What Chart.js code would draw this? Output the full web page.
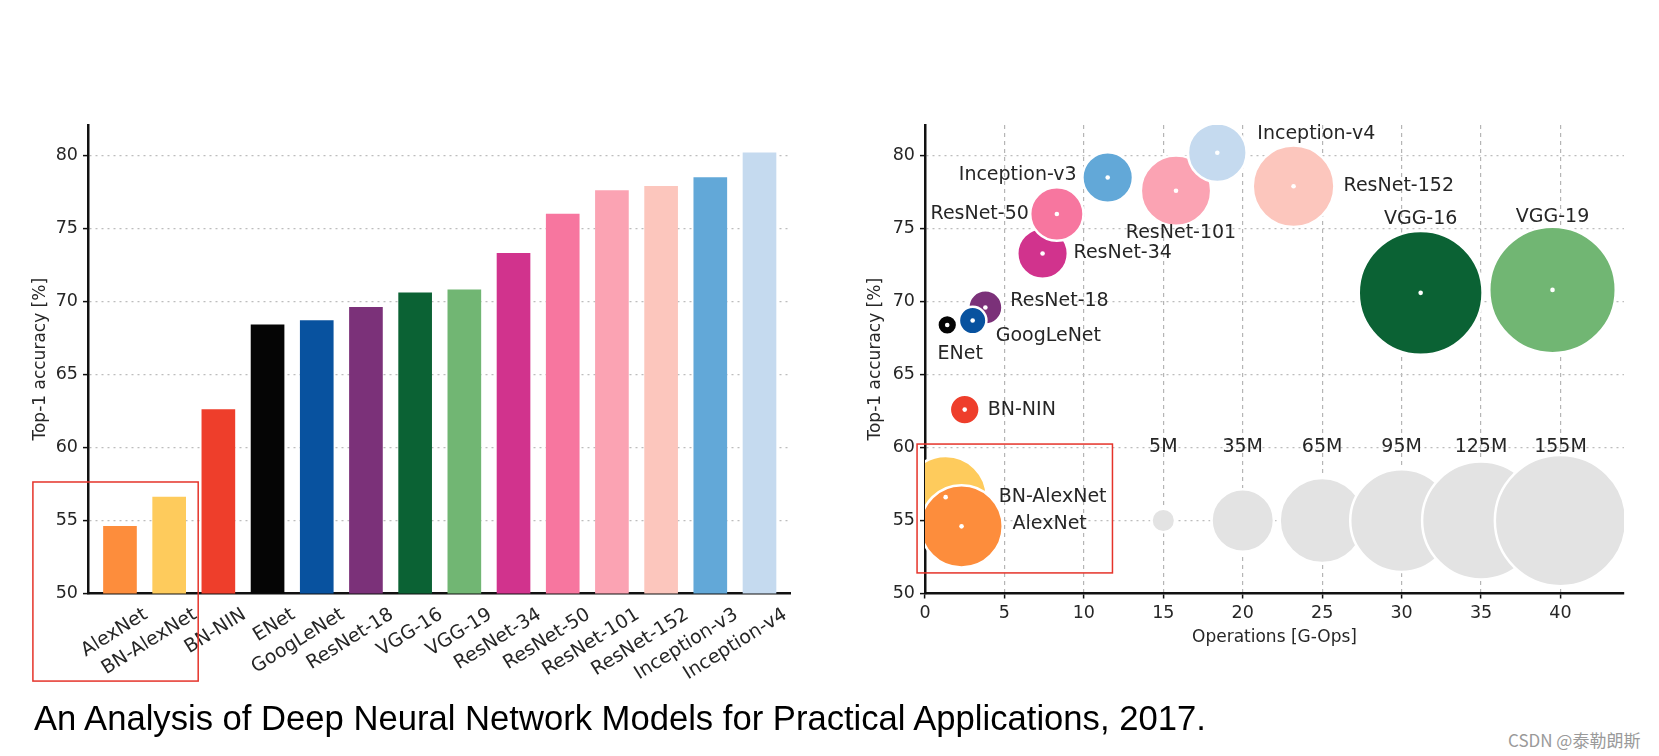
<!DOCTYPE html>
<html>
<head>
<meta charset="utf-8">
<script src="https://cdn.jsdelivr.net/npm/chart.js@4.4.0/dist/chart.umd.min.js"></script>
<style>
  html, body { margin: 0; padding: 0; background: #fff; }
  body { width: 1659px; height: 756px; position: relative; overflow: hidden; }
  #barBox { position: absolute; left: 0; top: 0; width: 800px; height: 700px; }
  #bubbleBox { position: absolute; left: 850px; top: 0; width: 809px; height: 700px; }
  #caption {
    position: absolute; left: 34px; top: 698px;
    font-family: "Liberation Sans", Arial, sans-serif; font-size: 35px; color: #000;
    white-space: nowrap; transform-origin: left top;
  }
  #mark {
    position: absolute; left: 1508px; top: 727px;
    font-family: "Noto Sans CJK SC", sans-serif; font-size: 17px; color: #9a9a9a;
  }
</style>
</head>
<body>
<div id="barBox"><canvas id="bar"></canvas></div>
<div id="bubbleBox"><canvas id="bubble"></canvas></div>
<div id="caption">An Analysis of Deep Neural Network Models for Practical Applications, 2017.</div>
<div id="mark">CSDN @泰勒朗斯</div>
<script>
// models, in the order of the bar chart
const models = ["AlexNet", "BN-AlexNet", "BN-NIN", "ENet", "GoogLeNet", "ResNet-18", "VGG-16",
  "VGG-19", "ResNet-34", "ResNet-50", "ResNet-101", "ResNet-152", "Inception-v3", "Inception-v4"];
// top-1 accuracy [%]
const accuracy = [54.6, 56.6, 62.6, 68.4, 68.7, 69.6, 70.6, 70.8, 73.3, 76.0, 77.6, 77.9, 78.5, 80.2];
// operations [G-Ops]
const operations = [2.3, 1.3, 2.5, 1.4, 3.0, 3.8, 31.2, 39.5, 7.4, 8.3, 15.8, 23.2, 11.5, 18.4];
// parameters [M], shown as bubble size
const params = [61, 61, 8, 3.5, 6.8, 10.5, 138, 144, 23, 25.6, 44.5, 60, 23, 31];
const colors = ["#fd8d3c", "#fecb5c", "#ee3e2b", "#050505", "#08529f", "#7b3179", "#0b6234",
  "#71b673", "#d1338d", "#f7769f", "#fba3b3", "#fcc6bd", "#62a8d8", "#c5daef"];

// grey size legend
const legendParams = [5, 35, 65, 95, 125, 155];
const legendOps = [15, 20, 25, 30, 35, 40];
const legendAccuracy = 55;
const legendLabelAccuracy = 60;

// bubbles drawn later sit on top
const drawOrder = ["BN-AlexNet", "AlexNet", "BN-NIN", "ResNet-18", "ENet", "GoogLeNet", "ResNet-34",
  "ResNet-50", "Inception-v3", "ResNet-101", "Inception-v4", "ResNet-152", "VGG-16", "VGG-19"];

const font = "DejaVu Sans";
const ink = "#262626";
const tickSize = 17.5;
const sizeScale = 5.27; // px per sqrt(M)

// label placement next to each bubble: dx, dy, align
const labelPlace = {
  "AlexNet": [51, -2, "left"],
  "BN-AlexNet": [53, 0, "left"],
  "BN-NIN": [23, 0, "left"],
  "ENet": [13, 29, "center"],
  "GoogLeNet": [23, 15, "left"],
  "ResNet-18": [25, -6, "left"],
  "ResNet-34": [31, 0, "left"],
  "ResNet-50": [-28, 0, "right"],
  "Inception-v3": [-31, -2, "right"],
  "ResNet-101": [5, 42, "center"],
  "Inception-v4": [40, -19, "left"],
  "ResNet-152": [50, 0, "left"],
  "VGG-16": [0, -74, "center"],
  "VGG-19": [0, -73, "center"]
};

Chart.defaults.font.family = font;
Chart.defaults.color = ink;
Chart.defaults.animation = false;
Chart.defaults.events = [];
Chart.defaults.plugins.legend.display = false;
Chart.defaults.plugins.tooltip.enabled = false;

const fiveOnly = (max) => (scale) => {
  scale.ticks = scale.ticks.filter(t => t.value % 5 === 0 && t.value <= max);
};

function redBox(chart, x0, x1, y0, y1) {
  const { ctx, scales: { x, y } } = chart;
  ctx.save();
  ctx.strokeStyle = "#e5332a";
  ctx.lineWidth = 1.5;
  const l = x.getPixelForValue(x0), r = x.getPixelForValue(x1);
  const t = y.getPixelForValue(y1), b = y.getPixelForValue(y0);
  ctx.strokeRect(l, t, r - l, b - t);
  ctx.restore();
}

const yAxis = (width, titlePad) => ({
  min: 50,
  max: 82.1,
  afterBuildTicks: fiveOnly(80),
  afterFit: (s) => { s.width = width; },
  ticks: { stepSize: 5, padding: 5, font: { size: tickSize }, color: ink },
  grid: {
    color: (c) => c.tick && c.tick.value === 50 ? "rgba(0,0,0,0)" : "#bdbdbd",
    lineWidth: 1.2, tickColor: "#111", tickLength: 5, tickWidth: 1.5
  },
  border: { color: "#111", width: 2.5, dash: [2, 4] },
  title: { display: true, text: "Top-1 accuracy [%]", font: { size: 17 }, color: ink, padding: { top: titlePad } }
});

// left: accuracy bars
new Chart(document.getElementById("bar"), {
  type: "bar",
  data: {
    datasets: [{
      data: accuracy.map((v, i) => ({ x: i, y: v })),
      backgroundColor: colors,
      barThickness: 33
    }]
  },
  options: {
    responsive: true,
    maintainAspectRatio: false,
    layout: { autoPadding: false, padding: { top: 125, right: 10, bottom: 0, left: 0 } },
    scales: {
      x: {
        type: "linear",
        offset: false,
        min: -0.65,
        max: 13.62,
        afterBuildTicks: (s) => { s.ticks = models.map((m, i) => ({ value: i })); },
        afterFit: (s) => { s.height = 106.5; },
        ticks: {
          autoSkip: false, minRotation: 32, maxRotation: 32,
          callback: (v) => models[v],
          font: { size: 19 }, color: ink, padding: 2, labelOffset: 26
        },
        grid: { display: false, offset: false },
        border: { color: "#111", width: 2.5 }
      },
      y: yAxis(88, 30)
    }
  },
  plugins: [{
    id: "box",
    afterDraw: (chart) => redBox(chart, -1.77, 1.59, 44.0, 57.64)
  }]
});

// right: accuracy vs operations, bubble size = parameters
const modelPoints = drawOrder.map(name => {
  const i = models.indexOf(name);
  return { x: operations[i], y: accuracy[i], r: sizeScale * Math.sqrt(params[i]) };
});

new Chart(document.getElementById("bubble"), {
  type: "bubble",
  data: {
    datasets: [
      {
        // white centre dots
        data: modelPoints.map(p => ({ x: p.x, y: p.y, r: 2.3 })),
        backgroundColor: "#ffffff",
        borderWidth: 0,
        order: 0
      },
      {
        data: modelPoints,
        backgroundColor: drawOrder.map(n => colors[models.indexOf(n)]),
        borderColor: "#ffffff",
        borderWidth: 2.5,
        clip: 0,
        order: 1
      },
      {
        data: legendParams.map((p, i) => ({ x: legendOps[i], y: legendAccuracy, r: sizeScale * Math.sqrt(p) })),
        backgroundColor: "#e3e3e3",
        borderColor: "#ffffff",
        borderWidth: 2.5,
        clip: 0,
        order: 2
      }
    ]
  },
  options: {
    responsive: true,
    maintainAspectRatio: false,
    layout: { autoPadding: false, padding: { top: 125, right: 35, bottom: 46.5, left: 0 } },
    scales: {
      x: {
        type: "linear",
        min: 0,
        max: 44,
        afterBuildTicks: fiveOnly(40),
        afterFit: (s) => { s.height = 60; },
        ticks: { stepSize: 5, padding: 4, font: { size: tickSize }, color: ink },
        grid: {
          color: (c) => c.tick && c.tick.value === 0 ? "rgba(0,0,0,0)" : "#b5b5b5",
          lineWidth: 1.2, tickColor: "#111", tickLength: 5, tickWidth: 1.5
        },
        border: { color: "#111", width: 2.5, dash: [4, 4] },
        title: { display: true, text: "Operations [G-Ops]", font: { size: 17 }, color: ink, padding: { top: 2, bottom: 6 } }
      },
      y: yAxis(75, 15)
    }
  },
  plugins: [{
    id: "labels",
    afterDatasetsDraw: (chart) => {
      const { ctx, scales: { x, y } } = chart;
      ctx.save();
      ctx.font = "19px '" + font + "'";
      ctx.fillStyle = ink;
      ctx.textBaseline = "middle";
      models.forEach((name, i) => {
        const [dx, dy, align] = labelPlace[name];
        ctx.textAlign = align;
        ctx.fillText(name, x.getPixelForValue(operations[i]) + dx, y.getPixelForValue(accuracy[i]) + dy);
      });
      ctx.textAlign = "center";
      legendParams.forEach((p, i) => {
        ctx.fillText(p + "M", x.getPixelForValue(legendOps[i]), y.getPixelForValue(legendLabelAccuracy));
      });
      ctx.restore();
      redBox(chart, -0.5, 11.8, 51.41, 60.24);
    }
  }]
});

// squeeze caption to the reference width
const cap = document.getElementById("caption");
cap.style.transform = "scaleX(" + (1172 / cap.offsetWidth) + ")";
</script>
</body>
</html>
